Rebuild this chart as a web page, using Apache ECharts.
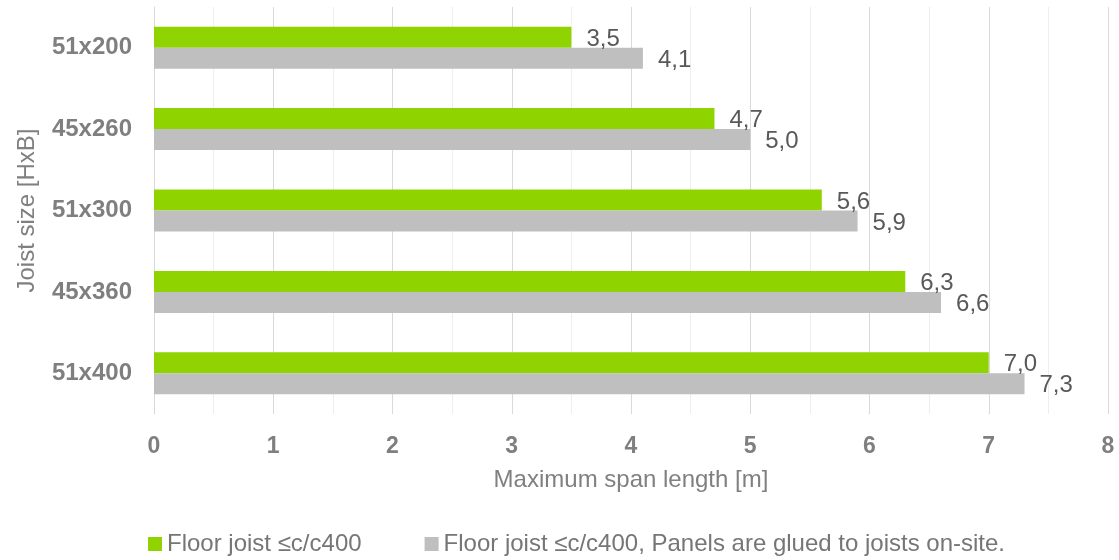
<!DOCTYPE html>
<html>
<head>
<meta charset="utf-8">
<title>Joist span</title>
<script src="https://cdn.jsdelivr.net/npm/echarts@6/dist/echarts.min.js"></script>
<style>
  html, body { margin: 0; padding: 0; background: #fff; }
  #main { width: 1119px; height: 560px; }
</style>
</head>
<body>
<div id="main"></div>
<script>
// joist sizes, top to bottom
var categories = ['51x200', '45x260', '51x300', '45x360', '51x400'];
var seriesNames = ['Floor joist \u2264c/c400', 'Floor joist \u2264c/c400, Panels are glued to joists on-site.'];
var floorJoist = [3.5, 4.7, 5.6, 6.3, 7.0];
var gluedPanels = [4.1, 5.0, 5.9, 6.6, 7.3];

var font = '"Liberation Sans", Arial, sans-serif';

function fmt(p) {
  return p.value.toFixed(1).replace('.', ',');
}

var chart = echarts.init(document.getElementById('main'));
chart.setOption({
  animation: false,
  textStyle: { fontFamily: font },
  grid: { left: 154, right: 11, top: 7, bottom: 146, containLabel: false },
  legend: {
    top: 527,
    left: 143,
    itemWidth: 14,
    itemHeight: 14,
    itemGap: 63,
    icon: 'rect',
    textStyle: { fontFamily: font, fontSize: 24, color: '#767676' },
    data: seriesNames
  },
  xAxis: {
    type: 'value',
    min: 0,
    max: 8,
    interval: 1,
    name: 'Maximum span length [m]',
    nameLocation: 'middle',
    nameGap: 54,
    nameTextStyle: { fontFamily: font, fontSize: 24, color: '#808080' },
    axisLine: { show: false },
    axisTick: { show: false },
    axisLabel: { fontFamily: font, fontSize: 23, fontWeight: 'bold', color: '#7f7f7f', margin: 21 },
    splitLine: { show: true, lineStyle: { color: '#d9d9d9', width: 1 } },
    minorTick: { show: false, splitNumber: 2 },
    minorSplitLine: { show: true, lineStyle: { color: '#eeeeee', width: 1 } }
  },
  yAxis: {
    type: 'category',
    inverse: true,
    data: categories,
    name: 'Joist size [HxB]',
    nameLocation: 'middle',
    nameGap: 115,
    nameTextStyle: { fontFamily: font, fontSize: 24, color: '#808080' },
    axisLine: { show: true, lineStyle: { color: '#d9d9d9', width: 1 } },
    axisTick: { show: false },
    axisLabel: { fontFamily: font, fontSize: 24, fontWeight: 'bold', color: '#7f7f7f', margin: 22 }
  },
  series: [
    {
      name: seriesNames[0],
      type: 'bar',
      data: floorJoist,
      barWidth: 21,
      barGap: '0%',
      itemStyle: { color: '#8fd400' },
      label: { show: true, position: 'right', distance: 15, offset: [0, 2], formatter: fmt,
               fontFamily: font, fontSize: 24, color: '#595959' }
    },
    {
      name: seriesNames[1],
      type: 'bar',
      data: gluedPanels,
      barWidth: 21,
      barGap: '0%',
      itemStyle: { color: '#bfbfbf' },
      label: { show: true, position: 'right', distance: 15, offset: [0, 2], formatter: fmt,
               fontFamily: font, fontSize: 24, color: '#595959' }
    }
  ]
});
</script>
</body>
</html>
